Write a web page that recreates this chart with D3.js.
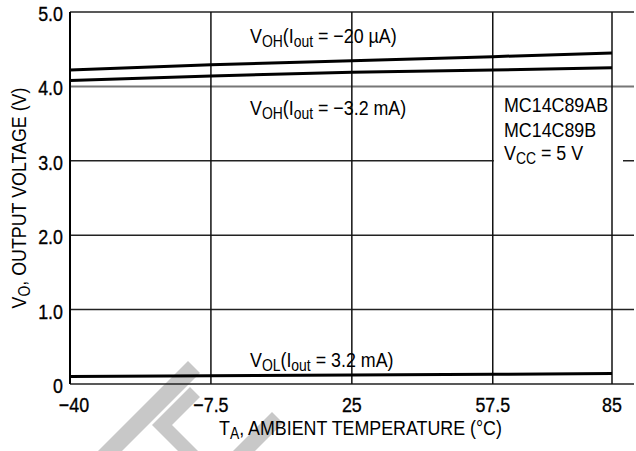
<!DOCTYPE html>
<html>
<head>
<meta charset="utf-8">
<script src="https://cdn.jsdelivr.net/npm/d3@7"></script>
<style>
  body { margin: 0; background: #fff; }
  text { font-family: "Liberation Sans", Arial, sans-serif; fill: #000; }
</style>
</head>
<body>
<div id="chart"></div>
<script>
// Chart data
var temps = [-40, -7.5, 25, 57.5, 85];
var vohSmall = [4.22, 4.29, 4.345, 4.40, 4.45]; // Iout = -20 uA
var vohLarge = [4.08, 4.14, 4.19, 4.22, 4.25]; // Iout = -3.2 mA
var volLine = [0.10, 0.11, 0.12, 0.13, 0.14];  // Iout = 3.2 mA
var xTicks = [-40, -7.5, 25, 57.5, 85];
var xTickLabels = ["\u221240", "\u22127.5", "25", "57.5", "85"];
var yTicks = [0, 1, 2, 3, 4, 5];
var yTickLabels = ["0", "1.0", "2.0", "3.0", "4.0", "5.0"];

var width = 636, height = 451;
var squeeze = 0.85; // the datasheet font is a condensed one

var x = d3.scaleLinear().domain([-40, 85]).range([70, 612]);
var y = d3.scaleLinear().domain([0, 5]).range([384, 12]);

var svg = d3.select("#chart")
	.append("svg")
	.attr("width", width)
	.attr("height", height);

// faint watermark shapes in the lower left
var marks = [
	[[98, 451], [188, 361], [200, 373], [122, 451]],
	[[152, 425], [190, 387], [200, 397], [172, 425], [198, 451], [178, 451]],
	[[233, 451], [272, 412], [283, 423], [255, 451]]
];
svg.append("g").selectAll("polygon")
	.data(marks)
	.enter()
	.append("polygon")
	.attr("points", function (d) { return d.join(" "); })
	.attr("fill", "#c8c8c8");

// horizontal grid lines, run past the last tick to the edge
svg.append("g").selectAll("line")
	.data(yTicks)
	.enter()
	.append("line")
	.attr("x1", x(-40))
	.attr("x2", 634)
	.attr("y1", function (d) { return y(d); })
	.attr("y2", function (d) { return y(d); })
	.attr("stroke", function (d) { return d === 4 ? "#777" : "#222"; })
	.attr("stroke-width", function (d) { return d === 4 ? 2 : 1.5; });

// blank behind the part number note
svg.append("rect")
	.attr("x", x(57.5) + 1)
	.attr("y", y(3) - 4)
	.attr("width", 623 - x(57.5) - 1)
	.attr("height", 8)
	.attr("fill", "#fff");

// vertical grid lines
svg.append("g").selectAll("line")
	.data(xTicks.slice(1))
	.enter()
	.append("line")
	.attr("x1", function (d) { return x(d); })
	.attr("x2", function (d) { return x(d); })
	.attr("y1", y(5))
	.attr("y2", y(0))
	.attr("stroke", "#111")
	.attr("stroke-width", 1.5);

// left frame
svg.append("line")
	.attr("x1", x(-40)).attr("x2", x(-40))
	.attr("y1", y(5)).attr("y2", y(0))
	.attr("stroke", "#000")
	.attr("stroke-width", 2);

// the three curves
var line = d3.line()
	.x(function (d) { return x(d[0]); })
	.y(function (d) { return y(d[1]); });

[vohSmall, vohLarge, volLine].forEach(function (s) {
	svg.append("path")
		.datum(temps.map(function (t, i) { return [t, s[i]]; }))
		.attr("d", line)
		.attr("fill", "none")
		.attr("stroke", "#000")
		.attr("stroke-width", 3);
});

// text with subscripts, squeezed horizontally; parts are [text, isSub]
function label(px, py, parts, opts) {
	opts = opts || {};
	var g = svg.append("g")
		.attr("transform", "translate(" + px + "," + py + ")" +
			(opts.rotate ? " rotate(" + opts.rotate + ")" : "") +
			" scale(" + squeeze + ",1)");
	var t = g.append("text")
		.attr("font-size", opts.size || 21)
		.attr("text-anchor", opts.anchor || "start");
	if (opts.bold) t.attr("stroke", "#000").attr("stroke-width", 0.35);
	var low = false;
	parts.forEach(function (p) {
		var s = t.append("tspan").text(p[0]);
		if (p[1] && !low) { s.attr("dy", 4).attr("font-size", "0.78em"); low = true; }
		else if (p[1]) { s.attr("font-size", "0.78em"); }
		else if (low) { s.attr("dy", -4); low = false; }
	});
	return g;
}

// tick labels
xTicks.forEach(function (d, i) {
	label(x(d) + (d === -40 ? 4 : 0), 412, [[xTickLabels[i]]], { anchor: "middle", bold: true });
});
yTicks.forEach(function (d, i) {
	label(63, y(d) + 9, [[yTickLabels[i]]], { anchor: "end", bold: true });
});

// curve labels
label(250, 43, [["V"], ["OH", 1], ["(I"], ["out", 1], [" = \u221220 \u00b5A)"]]);
label(250, 115, [["V"], ["OH", 1], ["(I"], ["out", 1], [" = \u22123.2 mA)"]]);
label(250, 367, [["V"], ["OL", 1], ["(I"], ["out", 1], [" = 3.2 mA)"]]);

// part note
label(504, 112, [["MC14C89AB"]]);
label(504, 137, [["MC14C89B"]]);
label(504, 160, [["V"], ["CC", 1], [" = 5 V"]]);

// axis titles
label(219, 435, [["T"], ["A", 1], [", AMBIENT TEMPERATURE (\u00b0C)"]]);
label(26, 198, [["V"], ["O", 1], [", OUTPUT VOLTAGE (V)"]], { anchor: "middle", rotate: -90 });
</script>
</body>
</html>
